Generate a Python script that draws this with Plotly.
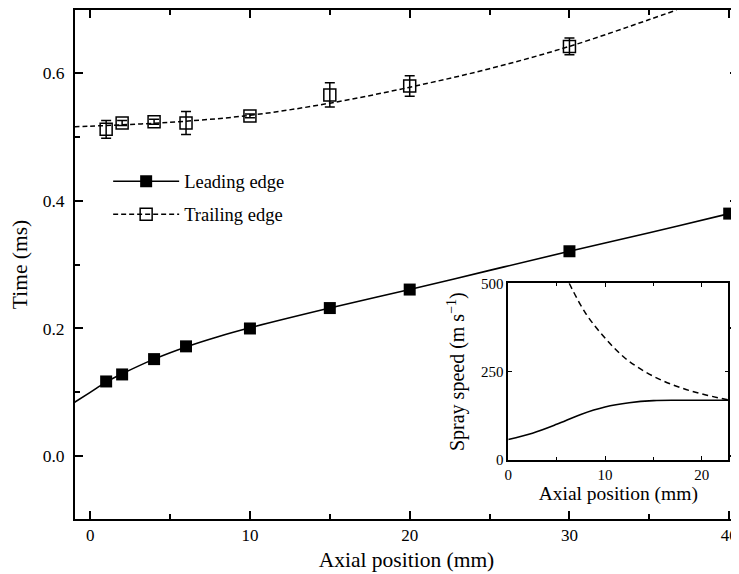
import plotly.graph_objects as go

# ---- data ----
axial_mm = [1, 2, 4, 6, 10, 15, 20, 30, 40]
leading_ms = [0.117, 0.128, 0.152, 0.172, 0.200, 0.232, 0.261, 0.321, 0.380]

trail_x = [1, 2, 4, 6, 10, 15, 20, 30]
trailing_ms = [0.512, 0.522, 0.524, 0.522, 0.533, 0.566, 0.580, 0.642]
trailing_err = [0.014, 0.004, 0.004, 0.018, 0.003, 0.019, 0.016, 0.013]

lead_fit_x = [-1, 0, 1, 2, 4, 6, 8, 10, 15, 20, 25, 30, 35, 40, 40.6]
lead_fit_y = [0.084, 0.100, 0.116, 0.129, 0.152, 0.171, 0.187, 0.201, 0.232,
              0.261, 0.291, 0.321, 0.350, 0.380, 0.384]

trail_fit_x = [-1, 0, 5, 10, 15, 20, 25, 30, 35, 36.7]
trail_fit_y = [0.516, 0.517, 0.523, 0.534, 0.553, 0.578, 0.607, 0.642, 0.684, 0.699]

# inset: spray speed
inset_lead_x = [0, 2.5, 5, 7.5, 10, 12.5, 15, 17.5, 20, 22.75]
inset_lead_y = [58, 76, 101, 129, 150, 162, 168, 169, 169, 169]
inset_trail_x = [6.3, 8, 10, 12, 14, 16, 18, 20, 22.75]
inset_trail_y = [500, 415, 345, 290, 252, 224, 203, 187, 170]

FONT = "Liberation Serif"
BLACK = "black"

fig = go.Figure()

# fit curves
fig.add_trace(go.Scatter(x=lead_fit_x, y=lead_fit_y, mode="lines",
                         line=dict(color=BLACK, width=1.6, shape="spline"),
                         showlegend=False, hoverinfo="skip"))
fig.add_trace(go.Scatter(x=trail_fit_x, y=trail_fit_y, mode="lines",
                         line=dict(color=BLACK, width=1.5, shape="spline", dash="5px,3px"),
                         showlegend=False, hoverinfo="skip"))

# data points
fig.add_trace(go.Scatter(x=axial_mm, y=leading_ms, mode="markers",
                         marker=dict(symbol="square", size=12, color=BLACK),
                         showlegend=False, cliponaxis=False))
fig.add_trace(go.Scatter(x=trail_x, y=trailing_ms, mode="markers",
                         marker=dict(symbol="square-open", size=12, color=BLACK,
                                     line=dict(width=1.5)),
                         error_y=dict(type="data", array=trailing_err, color=BLACK,
                                      thickness=1.5, width=5),
                         showlegend=False))

# legend entries
fig.add_trace(go.Scatter(x=[None], y=[None], mode="lines+markers", name="Leading edge",
                         legendgroup="a",
                         line=dict(color=BLACK, width=1.6),
                         marker=dict(symbol="square", size=12, color=BLACK)))
fig.add_trace(go.Scatter(x=[None], y=[None], mode="lines+markers", name="Trailing edge",
                         legendgroup="b",
                         line=dict(color=BLACK, width=1.5, dash="5px,3px"),
                         marker=dict(symbol="square-open", size=12, color=BLACK,
                                     line=dict(width=1.5))))

# inset curves
fig.add_trace(go.Scatter(x=inset_lead_x, y=inset_lead_y, mode="lines",
                         xaxis="x2", yaxis="y2",
                         line=dict(color=BLACK, width=1.6, shape="spline"),
                         showlegend=False, hoverinfo="skip"))
fig.add_trace(go.Scatter(x=inset_trail_x, y=inset_trail_y, mode="lines",
                         xaxis="x2", yaxis="y2",
                         line=dict(color=BLACK, width=1.5, shape="spline", dash="6px,4px"),
                         showlegend=False, hoverinfo="skip"))

axis_common = dict(showgrid=False, zeroline=False, showline=True, linecolor=BLACK,
                   ticks="inside", tickcolor=BLACK, mirror="allticks", automargin=False)

# page body has an 8px default margin: figure is sized to fill the rest of the window
fig.update_layout(
    width=731, height=566,
    margin=dict(l=67, r=1, t=2, b=55),
    paper_bgcolor="white", plot_bgcolor="white",
    font=dict(family=FONT, color=BLACK, size=17),
    xaxis=dict(**axis_common, range=[-0.95, 40.55], tickvals=[0, 10, 20, 30, 40],
               linewidth=2, tickwidth=2, ticklen=8,
               minor=dict(dtick=5, tick0=0, ticks="inside", ticklen=5, tickwidth=1.5,
                          tickcolor=BLACK),
               tickfont=dict(size=17, color=BLACK),
               title=dict(text="Axial position (mm)", font=dict(size=21.5), standoff=8)),
    yaxis=dict(**axis_common, range=[-0.0985, 0.699], tickvals=[0.0, 0.2, 0.4, 0.6],
               ticktext=["0.0", "0.2", "0.4", "0.6"],
               linewidth=2, tickwidth=2, ticklen=8, ticklabelstandoff=5,
               minor=dict(dtick=0.1, tick0=0, ticks="inside", ticklen=5, tickwidth=1.5,
                          tickcolor=BLACK),
               tickfont=dict(size=17.5, color=BLACK),
               title=dict(text="Time (ms)", font=dict(size=21.5), standoff=12)),
    xaxis2=dict(**axis_common, domain=[0.6535, 0.9854], anchor="y2",
                range=[0, 22.75], tickvals=[0, 10, 20],
                linewidth=1.5, tickwidth=1, ticklen=4,
                minor=dict(dtick=5, tick0=0, ticks="inside", ticklen=3, tickwidth=1,
                           tickcolor=BLACK),
                tickfont=dict(size=15, color=BLACK),
                title=dict(text="Axial position (mm)", font=dict(size=19.5), standoff=0)),
    yaxis2=dict(**axis_common, domain=[0.1159, 0.4631], anchor="x2",
                range=[0, 500], tickvals=[0, 250, 500],
                linewidth=1.5, tickwidth=1, ticklen=4,
                tickfont=dict(size=15, color=BLACK),
                title=dict(text="Spray speed (m s<sup>−1</sup>)", font=dict(size=20),
                           standoff=11)),
    legend=dict(x=0.05, y=0.70, xanchor="left", yanchor="top",
                bgcolor="rgba(0,0,0,0)", font=dict(size=18.5, family=FONT, color=BLACK),
                itemwidth=66, tracegroupgap=6),
)

fig.write_html("out.html")
